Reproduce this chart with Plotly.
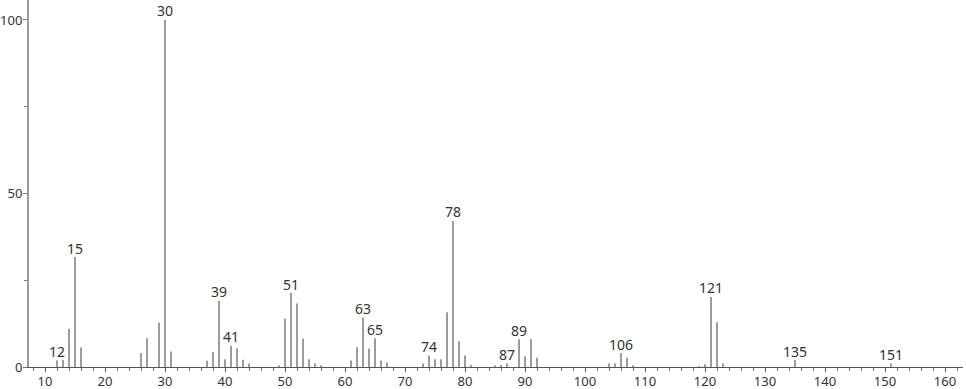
import plotly.graph_objects as go

mz = [12, 13, 14, 15, 16, 26, 27, 29, 30, 31,
      37, 38, 39, 40, 41, 42, 43, 44, 49, 50, 51, 52, 53, 54, 55, 56,
      61, 62, 63, 64, 65, 66, 67, 73, 74, 75, 76, 77, 78, 79, 80, 81,
      85, 86, 87, 89, 90, 91, 92, 104, 105, 106, 107, 108,
      119, 120, 121, 122, 123, 135, 151]
intensity = [1.9, 2.0, 11.0, 31.7, 5.6, 4.0, 8.3, 12.8, 100.0, 4.5,
             1.8, 4.3, 19.1, 2.2, 6.1, 5.4, 2.1, 1.0, 0.4, 14.0, 21.3, 18.3, 8.2, 2.2, 1.0, 0.5,
             1.9, 5.7, 14.3, 5.3, 8.3, 1.9, 1.3, 1.0, 3.3, 2.2, 2.2, 15.8, 42.1, 7.4, 3.3, 0.6,
             0.4, 0.6, 1.0, 8.0, 3.1, 8.0, 2.7, 1.0, 1.0, 4.0, 2.7, 0.5,
             0.3, 0.8, 20.2, 12.9, 1.0, 2.0, 1.0]
labeled = [12, 15, 30, 39, 41, 51, 63, 65, 74, 78, 87, 89, 106, 121, 135, 151]

x_ticks = list(range(10, 161, 10))
y_ticks = [0, 50, 100]

xs, ys = [], []
for m, v in zip(mz, intensity):
    xs += [m, m, None]
    ys += [0, v, None]

lab_y = [intensity[mz.index(m)] for m in labeled]

font_family = "Noto Sans, DejaVu Sans, sans-serif"

fig = go.Figure()
fig.add_trace(go.Scatter(x=xs, y=ys, mode="lines",
                         line=dict(color="#5a5a5a", width=1.2),
                         hoverinfo="skip", showlegend=False))
fig.add_trace(go.Scatter(x=labeled, y=lab_y, mode="text",
                         text=[str(m) for m in labeled],
                         textposition="top center",
                         textfont=dict(family=font_family, size=14, color="#333333"),
                         showlegend=False, cliponaxis=False))

fig.update_layout(
    width=966, height=389,
    margin=dict(l=29, r=3, t=0, b=22),
    plot_bgcolor="white", paper_bgcolor="white",
    xaxis=dict(range=[7.33, 163], tickvals=x_ticks, ticktext=[str(t) for t in x_ticks],
               automargin=False,
               showgrid=False, zeroline=False, showline=True, linecolor="#555555", linewidth=1,
               ticks="outside", ticklen=4, tickcolor="#555555", tickwidth=1,
               ticklabelstandoff=-2,
               minor=dict(dtick=2, tick0=0, ticks="outside", ticklen=3, tickcolor="#777777", showgrid=False),
               tickfont=dict(family=font_family, size=13, color="#333333")),
    yaxis=dict(range=[0, 105.76], tickvals=y_ticks, ticktext=[str(t) for t in y_ticks],
               automargin=False,
               showgrid=False, zeroline=False, showline=True, linecolor="#999999", linewidth=2,
               ticks="outside", ticklen=4, tickcolor="#777777", tickwidth=1,
               ticklabelstandoff=-2,
               minor=dict(tickvals=[25, 75], ticks="outside", ticklen=3, tickcolor="#777777", showgrid=False),
               tickfont=dict(family=font_family, size=13, color="#333333")),
)

fig.write_html("out.html")
